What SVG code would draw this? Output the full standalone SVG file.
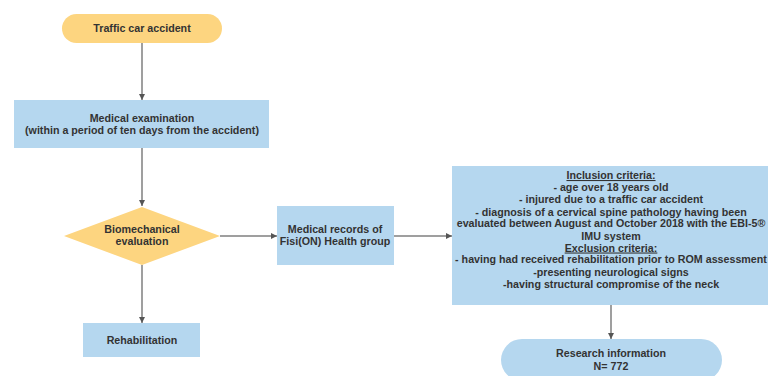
<svg xmlns="http://www.w3.org/2000/svg" width="768" height="376" viewBox="0 0 768 376">
<style>
text{font-family:"Liberation Sans",Arial,sans-serif;font-size:10.7px;font-weight:bold;fill:#333;text-anchor:middle}
.y{fill:#fdd580}
.b{fill:#b5d7ef}
.c{stroke:#7f7f7f;stroke-width:1.5;fill:none;marker-end:url(#ah)}
.u{text-decoration:underline}
</style>
<defs>
<marker id="ah" viewBox="0 0 10 10" refX="10" refY="5" markerWidth="6" markerHeight="6" orient="auto" markerUnits="userSpaceOnUse"><path d="M0,0L10,5L0,10z" fill="#555"/></marker>
</defs>
<rect width="768" height="376" fill="#fff"/>
<g id="connectors">
<path class="c" d="M142,43V100"/>
<path class="c" d="M142,148V206"/>
<path class="c" d="M220,236H277"/>
<path class="c" d="M142,265V323"/>
<path class="c" d="M394,236H452"/>
<path class="c" d="M611,305V339"/>
</g>
<g id="accident"><rect class="y" x="62" y="14" width="160" height="29" rx="14.5"/><text x="142" y="32">Traffic car accident</text></g>
<g id="exam"><rect class="b" x="14" y="100" width="255" height="48"/><text x="142" y="122">Medical examination</text><text x="142" y="134">(within a period of ten days from the accident)</text></g>
<g id="biomech"><path class="y" d="M142,207L220,236L142,265L64,236z"/><text x="142" y="233">Biomechanical</text><text x="142" y="245">evaluation</text></g>
<g id="records"><rect class="b" x="277" y="206" width="117" height="59"/><text x="335" y="233">Medical records of</text><text x="335" y="245">Fisi(ON) Health group</text></g>
<g id="rehab"><rect class="b" x="83" y="323" width="117" height="34"/><text x="142" y="344">Rehabilitation</text></g>
<g id="criteria"><rect class="b" x="452" y="166" width="318" height="139"/>
<text x="611" y="179" class="u">Inclusion criteria:</text>
<text x="611" y="191">- age over 18 years old</text>
<text x="611" y="203">- injured due to a traffic car accident</text>
<text x="611" y="215.5">- diagnosis of a cervical spine pathology having been</text>
<text x="611" y="227">evaluated between August and October 2018 with the EBI-5®</text>
<text x="611" y="240">IMU system</text>
<text x="611" y="251.5" class="u">Exclusion criteria:</text>
<text x="611" y="263">- having had received rehabilitation prior to ROM assessment</text>
<text x="611" y="275.5">-presenting neurological signs</text>
<text x="611" y="288">-having structural compromise of the neck</text>
</g>
<g id="research"><rect class="b" x="501" y="339" width="221" height="42" rx="21"/><text x="611" y="357">Research information</text><text x="611" y="369.5">N= 772</text></g>
</svg>
